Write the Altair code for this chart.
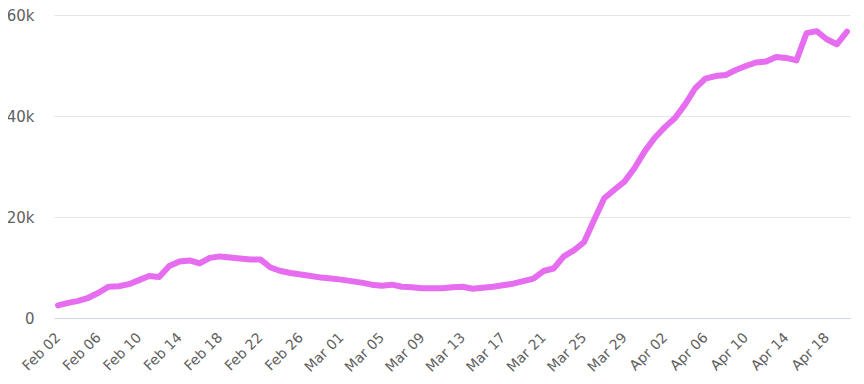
import altair as alt
import pandas as pd

start_date = "2020-02-02"
values_k = [
    2.5, 3.0, 3.4, 4.0, 5.0, 6.2, 6.3, 6.7, 7.5, 8.3, 8.1, 10.3, 11.2, 11.4,
    10.8, 11.9, 12.2, 12.0, 11.8, 11.6, 11.6, 10.0, 9.3, 8.9, 8.6, 8.3, 8.0, 7.8,
    7.6, 7.3, 7.0, 6.6, 6.4, 6.6, 6.2, 6.1, 5.9, 5.9, 5.9, 6.1, 6.2, 5.8, 6.0,
    6.2, 6.5, 6.8, 7.3, 7.8, 9.3, 9.8, 12.2, 13.4, 15.0, 19.4, 23.7, 25.4, 27.0,
    29.7, 33.0, 35.7, 37.8, 39.6, 42.3, 45.5, 47.4, 47.9, 48.1, 49.1, 49.9, 50.6,
    50.8, 51.7, 51.5, 51.0, 56.4, 56.8, 55.2, 54.2, 56.7,
]
dates = [d.strftime("%Y-%m-%d") for d in pd.date_range(start_date, periods=len(values_k), freq="D")]
tick_dates = dates[::4]
y_ticks = [0, 20000, 40000, 60000]

df = pd.DataFrame({"date": dates, "value": [v * 1000 for v in values_k]})

def dt(s, hours=0, minutes=0):
    y, m, d = (int(p) for p in s.split("-"))
    return alt.DateTime(year=y, month=m, date=d, hours=hours, minutes=minutes, utc=True)

x_domain = [alt.DateTime(year=2020, month=2, date=1, hours=14, minutes=24, utc=True),
            alt.DateTime(year=2020, month=4, date=20, hours=7, minutes=12, utc=True)]

chart = alt.Chart(df).mark_line(
    color="#e66cf0", strokeWidth=6, strokeJoin="round", strokeCap="round"
).encode(
    x=alt.X("date:T", title=None,
            scale=alt.Scale(type="utc", domain=x_domain),
            axis=alt.Axis(values=[dt(s) for s in tick_dates], format="%b %d",
                          labelAngle=-45, labelAlign="right", labelBaseline="middle",
                          labelPadding=17, ticks=False, grid=False,
                          domainColor="#ccd6eb", domainWidth=1,
                          labelColor="#606060", labelFontSize=14,
                          labelFont="DejaVu Sans", labelOverlap=False)),
    y=alt.Y("value:Q", title=None,
            scale=alt.Scale(domain=[0, 60000], nice=False),
            axis=alt.Axis(values=y_ticks,
                          labelExpr="datum.value == 0 ? '0' : format(datum.value / 1000, 'd') + 'k'",
                          ticks=False, domain=False,
                          gridColor="#e6e6e6", gridWidth=1,
                          labelPadding=20, labelColor="#606060", labelFontSize=15,
                          labelFont="DejaVu Sans")),
).properties(
    width=796, height=303,
    autosize=alt.AutoSizeParams(type="none"),
    padding={"left": 46, "top": 7, "right": 4, "bottom": 58},
).configure_view(stroke=None)

chart.save("out.html", embed_options={"renderer": "svg", "actions": False})
